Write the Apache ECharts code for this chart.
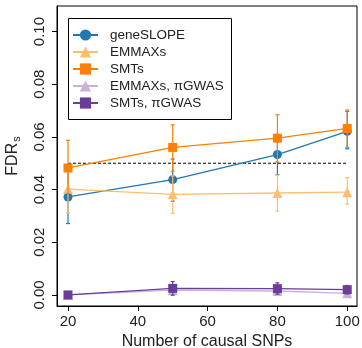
<!DOCTYPE html>
<html>
<head>
<meta charset="utf-8">
<script src="https://cdn.jsdelivr.net/npm/echarts@6/dist/echarts.min.js"></script>
<style>html,body{margin:0;padding:0;background:#fff}#c{width:362px;height:348px}</style>
</head>
<body>
<div id="c"></div>
<script>
const xValues = [20, 50, 80, 100];
const xTicks = [20, 40, 60, 80, 100];
const yTicks = [0.00, 0.02, 0.04, 0.06, 0.08, 0.10];
const seriesNames = ['geneSLOPE', 'EMMAXs', 'SMTs', 'EMMAXs, \u03c0GWAS', 'SMTs, \u03c0GWAS'];

const geneSLOPE = [0.0372, 0.0438, 0.0533, 0.0621];
const geneSLOPELow = [0.0271, 0.0356, 0.0457, 0.0555];
const geneSLOPEHigh = [0.0473, 0.0516, 0.0609, 0.0697];

const emmax = [0.0402, 0.0382, 0.0387, 0.0390];
const emmaxLow = [0.0312, 0.0310, 0.0318, 0.0345];
const emmaxHigh = [0.0495, 0.0452, 0.0455, 0.0446];

const smt = [0.0482, 0.0560, 0.0595, 0.0632];
const smtLow = [0.0385, 0.0470, 0.0505, 0.0560];
const smtHigh = [0.0587, 0.0646, 0.0684, 0.0702];

const emmaxPi = [0.0000, 0.0018, 0.0015, 0.0006];
const emmaxPiLow = [0.0000, 0.0003, 0.0000, -0.0002];
const emmaxPiHigh = [0.0000, 0.0035, 0.0030, 0.0015];

const smtPi = [0.0000, 0.0025, 0.0024, 0.0020];
const smtPiLow = [0.0000, -0.0001, 0.0003, 0.0004];
const smtPiHigh = [0.0000, 0.0051, 0.0046, 0.0036];

const targetFDR = 0.05;

const colors = ['#1f78b4', '#fdbf6f', '#ff7f00', '#cab2d6', '#6a3d9a'];
const symbols = ['circle', 'triangle', 'rect', 'triangle', 'rect'];
const symbolSizes = [9, 10, 9, 10, 9];
const means = [geneSLOPE, emmax, smt, emmaxPi, smtPi];
const lows = [geneSLOPELow, emmaxLow, smtLow, emmaxPiLow, smtPiLow];
const highs = [geneSLOPEHigh, emmaxHigh, smtHigh, emmaxPiHigh, smtPiHigh];

const FONT = '"Liberation Sans", Arial, Helvetica, sans-serif';

function errorSeries(i) {
  return {
    type: 'custom',
    name: seriesNames[i] + ' err',
    z: 2 + i * 2,
    silent: true,
    data: xValues.map((x, k) => [x, lows[i][k], highs[i][k]]),
    renderItem: function (params, api) {
      const lo = api.coord([api.value(0), api.value(1)]);
      const hi = api.coord([api.value(0), api.value(2)]);
      const c = 2;
      const st = { stroke: colors[i], lineWidth: 1.2 };
      return {
        type: 'group',
        children: [
          { type: 'line', shape: { x1: lo[0], y1: lo[1], x2: hi[0], y2: hi[1] }, style: st },
          { type: 'line', shape: { x1: lo[0] - c, y1: lo[1], x2: lo[0] + c, y2: lo[1] }, style: st },
          { type: 'line', shape: { x1: hi[0] - c, y1: hi[1], x2: hi[0] + c, y2: hi[1] }, style: st }
        ]
      };
    }
  };
}

function lineSeries(i) {
  return {
    type: 'line',
    name: seriesNames[i],
    z: 3 + i * 2,
    data: xValues.map((x, k) => [x, means[i][k]]),
    symbol: symbols[i],
    symbolSize: symbolSizes[i],
    showAllSymbol: true,
    itemStyle: { color: colors[i], opacity: 1 },
    lineStyle: { color: colors[i], width: 1.3 },
    emphasis: { disabled: true },
    animation: false
  };
}

const series = [];
for (let i = 0; i < seriesNames.length; i++) {
  series.push(errorSeries(i));
  series.push(lineSeries(i));
}
series.push({
  type: 'line',
  name: 'target',
  z: 1,
  data: [[xValues[0], targetFDR], [xValues[xValues.length - 1], targetFDR]],
  symbol: 'none',
  lineStyle: { color: '#000', width: 1, type: [3, 2] },
  animation: false
});

const chart = echarts.init(document.getElementById('c'), null, { renderer: 'canvas' });
chart.setOption({
  animation: false,
  backgroundColor: '#fff',
  textStyle: { fontFamily: FONT },
  grid: {
    left: 57, right: 5, top: 6, bottom: 42, show: true, borderColor: '#000', borderWidth: 1,
    backgroundColor: 'transparent', containLabel: false, outerBoundsMode: 'none'
  },
  graphic: [{
    type: 'rect',
    left: 68,
    top: 18,
    z: 20,
    silent: true,
    shape: { width: 163, height: 101 },
    style: { fill: '#fff', stroke: '#000', lineWidth: 1 }
  }],
  legend: {
    data: seriesNames,
    orient: 'vertical',
    left: 68,
    top: 18,
    z: 30,
    itemWidth: 25,
    itemHeight: 14,
    itemGap: 3,
    padding: [10, 8, 10, 4],
    borderWidth: 0,
    backgroundColor: 'transparent',
    textStyle: { fontFamily: FONT, fontSize: 13.5, color: '#222', padding: [0, 0, 0, 7] },
    selectedMode: false
  },
  xAxis: {
    type: 'value',
    min: 16.85,
    max: 102.8,
    name: 'Number of causal SNPs',
    nameLocation: 'middle',
    nameGap: 25,
    nameTextStyle: { fontFamily: FONT, fontSize: 16, color: '#222', verticalAlign: 'top' },
    splitLine: { show: false },
    axisLine: { show: true, onZero: false, lineStyle: { color: '#000', width: 1 } },
    axisTick: { show: true, customValues: xTicks, length: 5, lineStyle: { color: '#000' } },
    axisLabel: { customValues: xTicks, margin: 8, fontFamily: FONT, fontSize: 15, color: '#222' }
  },
  yAxis: {
    type: 'value',
    min: -0.0042,
    max: 0.1097,
    name: 'FDR{s|s}',
    nameLocation: 'middle',
    nameRotate: 90,
    nameGap: 35,
    nameTextStyle: {
      fontFamily: FONT, fontSize: 16, color: '#222',
      rich: { s: { fontFamily: FONT, fontSize: 11, color: '#222', padding: [7, 0, 0, 1] } }
    },
    splitLine: { show: false },
    axisLine: { show: true, onZero: false, lineStyle: { color: '#000', width: 1 } },
    axisTick: { show: true, customValues: yTicks, length: 5, lineStyle: { color: '#000' } },
    axisLabel: {
      customValues: yTicks, rotate: 90, margin: 10, fontFamily: FONT, fontSize: 15, color: '#222',
      formatter: v => v.toFixed(2)
    }
  },
  series: series
});
</script>
</body>
</html>
